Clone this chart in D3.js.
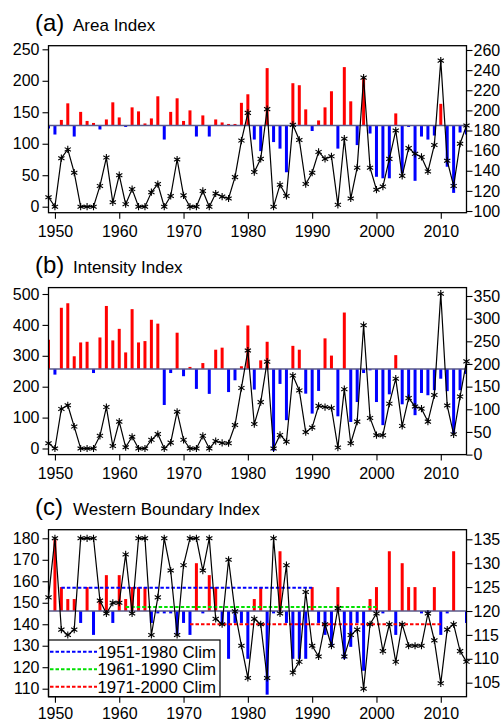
<!DOCTYPE html>
<html><head><meta charset="utf-8">
<script src="https://cdn.jsdelivr.net/npm/d3@7"></script>
<style>
body{margin:0;background:#fff}
svg{display:block}
text{font-family:"Liberation Sans",Arial,Helvetica,sans-serif;fill:#000}
</style>
</head><body><svg id="chart" width="502" height="722"></svg>
<script>
// ---------------- DATA ----------------
const years = [1949,1950,1951,1952,1953,1954,1955,1956,1957,1958,1959,1960,1961,1962,1963,1964,1965,1966,1967,1968,1969,
  1970,1971,1972,1973,1974,1975,1976,1977,1978,1979,1980,1981,1982,1983,1984,1985,1986,1987,1988,1989,
  1990,1991,1992,1993,1994,1995,1996,1997,1998,1999,2000,2001,2002,2003,2004,2005,2006,2007,2008,2009,
  2010,2011,2012,2013,2014];
const xTickYears = [1950,1960,1970,1980,1990,2000,2010];

// (a) Area Index: line (left axis) and bars (right axis)
const areaLine = [15,0,77,91,54,0,0,0,33,78,7,50,4,28,0,0,23,36,0,17,75,
  18,0,0,25,0,21,16,13,47,105,149,55,76,155,0,35,17,130,106,36,
  54,87,76,80,3,108,13,62,205,62,27,32,76,121,49,93,84,79,56,98,
  232,73,33,100,129];
const areaBars = [182,176,190.5,207,174,198.5,189.5,187.5,181,191,208,193,183.5,203,199,187,192,214,171,198.5,212,
  189.5,200,174,195,174,191,188,186.5,186.5,207.5,216,171,159.5,242,168.5,162,138.5,227,225,201,
  179.5,190,203,219,162,243,209,165.5,232.5,177,134,132.5,132.5,197,137.5,183.5,130,174,171,175,
  206.5,144,118,178,176];
const areaBase = 185;
const areaLeftTicks = [0,50,100,150,200,250];
const areaRightTicks = [100,120,140,160,180,200,220,240,260];

// (b) Intensity Index
const intLine = [17,0,128,140,71,0,0,0,41,134,8,87,4,38,0,0,28,47,0,19,119,
  28,0,0,41,0,24,18,17,76,196,317,79,150,281,0,44,22,236,188,53,
  68,138,134,131,3,192,17,87,399,99,43,43,145,226,73,163,136,129,87,173,
  501,139,46,168,282];
const intBars = [253.5,176.5,324,334,217,247.5,249,180,258.5,328,252,277.5,225.5,321,247.5,250.5,297.5,289,109.5,180,269,
  173,193.5,145,202,134,231.5,236,138,164,195,285,143.5,208,249,8.5,156,76,240,231.5,134.5,
  90.5,140.5,256.5,218.5,84.5,313.5,72,116,180,186,116,65,133,219.5,111,127,87,136,131,142,
  167.5,140,46.5,142,178];
const intBase = 189;
const intLeftTicks = [0,100,200,300,400,500];
const intRightTicks = [0,50,100,150,200,250,300,350];

// (c) Western Boundary Index
const wbLine = [152.5,180,137.5,135,137.5,180,180,180,151,145,150,150,172.5,145,180,180,135,152.5,180,165,135,
  167.5,180,180,165,180,142.5,140,170,146,130,115,142.5,140,115,180,145,167.5,117.5,122.5,155,
  130,125,140,130,147.5,125,135,137.5,110,140,145,127.5,140,122.5,140,130,130,130,145,132.5,
  112.5,137.5,140,127.5,122.5];
const wbBars = [120,135,125,122.5,122.5,117.5,125,115,122.5,127.5,117.5,127.5,122.5,125,125,125,117.5,119.5,119.5,119.5,115,
  117.5,115,130,119.5,127.5,125,117.5,110,117.5,117.5,110,122.5,125,102.5,119.5,132.5,117.5,110,110,110,
  125,117.5,115,112.5,125,110,112.5,117.5,107.5,122.5,125,119.5,132.5,115,130,125,125,119.5,119.5,125,
  115,119.5,132.5,120,117.5];
const wbBase = 120;
const wbLeftTicks = [110,120,130,140,150,160,170,180];
const wbRightTicks = [105,110,115,120,125,130,135];

// climatology lines for (c) (left axis)
const climLabels = ["1951-1980 Clim","1961-1990 Clim","1971-2000 Clim"];
const climValues = [157,148,140];
const climStart = [1951,1961,1971];
const climEnd = [1990,2000,2010];
const climColors = ["#0000ff","#00e000","#ff0000"];

// ---------------- LAYOUT ----------------
const svg = d3.select("#chart");
const X0 = 48.5, X1 = 466.5;
const x = d3.scaleLinear().domain([1949, 2014]).range([X0, X1]);
const FS = 16;

const panels = [
  {tag:"(a)", title:"Area Index", top:45.7, line:areaLine, bars:areaBars, base:areaBase,
   lt:areaLeftTicks, rt:areaRightTicks, pad:7,
   yL:d3.scaleLinear().domain([0,250]).range([206.7,49.3]),
   yR:d3.scaleLinear().domain([100,260]).range([211,50])},
  {tag:"(b)", title:"Intensity Index", top:287.6, line:intLine, bars:intBars, base:intBase,
   lt:intLeftTicks, rt:intRightTicks, pad:7,
   yL:d3.scaleLinear().domain([0,500]).range([448.5,294]),
   yR:d3.scaleLinear().domain([0,350]).range([454.6,296])},
  {tag:"(c)", title:"Western Boundary Index", top:529.7, line:wbLine, bars:wbBars, base:wbBase,
   lt:wbLeftTicks, rt:wbRightTicks, pad:4.5,
   yL:d3.scaleLinear().domain([110,180]).range([688.7,538.3]),
   yR:d3.scaleLinear().domain([105,135]).range([682.7,539.3])}
];
const H = 167;

function asterisk(r){
  const a = r*Math.cos(Math.PI/6), b = r*Math.sin(Math.PI/6);
  return `M0,${-r}V${r}M${-a},${-b}L${a},${b}M${-a},${b}L${a},${-b}`;
}

panels.forEach((p, i) => {
  const g = svg.append("g");
  const T = p.top, B = p.top + H;
  const cid = "clip" + i;
  svg.append("clipPath").attr("id", cid).append("rect")
    .attr("x", X0).attr("y", T).attr("width", X1 - X0).attr("height", H);

  // titles
  g.append("text").attr("x", 35).attr("y", T - 14.5).attr("font-size", 24).text(p.tag);
  g.append("text").attr("x", 73).attr("y", T - 15).attr("font-size", 17).text(p.title);

  const plot = g.append("g").attr("clip-path", `url(#${cid})`);
  // bars
  plot.selectAll("rect.bar").data(years.map((yr, k) => ({yr, v:p.bars[k]})).filter(d => d.v !== p.base))
    .enter().append("rect").attr("class", "bar")
    .attr("x", d => x(d.yr) - 1.5).attr("width", 3)
    .attr("y", d => Math.min(p.yR(d.v), p.yR(p.base)))
    .attr("height", d => Math.abs(p.yR(d.v) - p.yR(p.base)))
    .attr("fill", d => d.v > p.base ? "#ff0000" : "#0000ff");
  // baseline
  plot.append("line").attr("x1", X0).attr("x2", X1)
    .attr("y1", p.yR(p.base)).attr("y2", p.yR(p.base))
    .attr("stroke", "#5a5a8a").attr("stroke-width", 1.6);

  // climatology lines
  if (i === 2) {
    climValues.forEach((v, k) => {
      plot.append("line").attr("x1", x(climStart[k])).attr("x2", x(climEnd[k]))
        .attr("y1", p.yL(v)).attr("y2", p.yL(v))
        .attr("stroke", climColors[k]).attr("stroke-width", 2).attr("stroke-dasharray", "3.5,2");
    });
  }

  // line
  const lineGen = d3.line().x((d, k) => x(years[k])).y(d => p.yL(d));
  g.append("path").datum(p.line).attr("d", lineGen)
    .attr("fill", "none").attr("stroke", "#000").attr("stroke-width", 1.2);
  g.selectAll("path.mk").data(p.line).enter().append("path").attr("class", "mk")
    .attr("transform", (d, k) => `translate(${x(years[k])},${p.yL(d)})`)
    .attr("d", asterisk(3.6)).attr("stroke", "#000").attr("stroke-width", 1.1).attr("fill", "none");

  // legend
  if (i === 2) {
    const lg = g.append("g");
    lg.append("rect").attr("x", X0).attr("y", 640).attr("width", 220 - X0).attr("height", B - 640)
      .attr("fill", "#fff").attr("stroke", "#000").attr("stroke-width", 1.2);
    const ly = [651.7, 669.3, 686.8];
    climLabels.forEach((lab, k) => {
      lg.append("line").attr("x1", 50).attr("x2", 97).attr("y1", ly[k]).attr("y2", ly[k])
        .attr("stroke", climColors[k]).attr("stroke-width", 2).attr("stroke-dasharray", "3.5,2");
      lg.append("text").attr("x", 97.5).attr("y", ly[k]).attr("dy", "0.36em")
        .attr("font-size", 16.8).text(lab);
    });
  }

  // axes
  const axL = d3.axisLeft(p.yL).tickValues(p.lt).tickSize(6).tickPadding(3).tickFormat(d3.format("d"));
  const axR = d3.axisRight(p.yR).tickValues(p.rt).tickSize(6).tickPadding(1).tickFormat(d3.format("d"));
  const axB = d3.axisBottom(x).tickValues(xTickYears).tickSize(6).tickPadding(p.pad).tickFormat(d3.format("d"));
  [[axL, `translate(${X0},0)`], [axR, `translate(${X1},0)`], [axB, `translate(0,${B})`]].forEach(([ax, tr]) => {
    const a = g.append("g").attr("transform", tr).call(ax);
    a.select(".domain").remove();
    a.selectAll("text").attr("font-size", FS).attr("font-family", '"Liberation Sans",Arial,sans-serif').attr("fill", "#000");
    a.selectAll("line").attr("stroke", "#000").attr("stroke-width", 1.1);
  });

  // frame
  g.append("rect").attr("x", X0).attr("y", T).attr("width", X1 - X0).attr("height", H)
    .attr("fill", "none").attr("stroke", "#000").attr("stroke-width", 1.3);
});
</script>
</body></html>
